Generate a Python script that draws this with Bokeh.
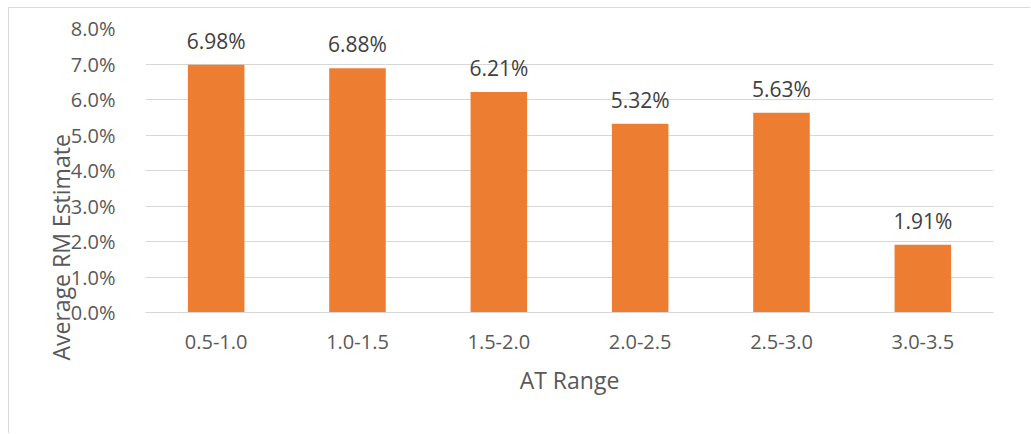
import math
from bokeh.plotting import figure
from bokeh.models import (ColumnDataSource, FactorRange, Range1d, NumeralTickFormatter,
                          FixedTicker, Title)
from bokeh.core.properties import value
from bokeh.embed import file_html
from bokeh.resources import INLINE

categories = ["0.5-1.0", "1.0-1.5", "1.5-2.0", "2.0-2.5", "2.5-3.0", "3.0-3.5"]
rm_estimate = [0.0698, 0.0688, 0.0621, 0.0532, 0.0563, 0.0191]
y_ticks = [0.0, 0.01, 0.02, 0.03, 0.04, 0.05, 0.06, 0.07, 0.08]
x_title = "AT Range"
y_title = "Average RM Estimate"

FONT = "Open Sans"
BAR = "#ED7D31"
GRID = "#d6d6d6"
TXT = "#595959"

OX, OY = 9, 8  # canvas origin inside the outer frame

src = ColumnDataSource(dict(
    cat=categories,
    val=rm_estimate,
    lab=[f"{v*100:.2f}%" for v in rm_estimate],
))

p = figure(width=1022, height=426, x_range=FactorRange(*categories, range_padding=0),
           y_range=Range1d(0, 0.08), output_backend="svg", toolbar_location=None,
           min_border_left=145 - OX, min_border_right=38, min_border_top=28 - OY,
           min_border_bottom=122,
           margin=(7, 0, 0, 8),
           styles={"border-left": "1px solid #d9d9d9", "border-top": "1px solid #d9d9d9"})
p.outline_line_color = None
p.background_fill_color = "white"
p.border_fill_color = "white"

p.vbar(x="cat", top="val", width=0.4, source=src, fill_color=BAR, line_color=None)
p.text(x="cat", y="val", text="lab", source=src, text_align="center", text_baseline="middle",
       y_offset=-24, text_font=value(FONT), text_font_size="21px", text_color="#404040")

p.xgrid.grid_line_color = None
p.ygrid.grid_line_color = GRID
p.ygrid.grid_line_width = 1.2

ya = p.yaxis[0]
ya.ticker = FixedTicker(ticks=y_ticks)
ya.formatter = NumeralTickFormatter(format="0.0%")
ya.axis_line_color = None
ya.major_tick_line_color = None
ya.minor_tick_line_color = None
ya.major_label_standoff = 24
ya.major_label_text_font = FONT
ya.major_label_text_font_size = "20px"
ya.major_label_text_color = TXT

# y title as a side title so it can sit lower than the frame centre, as in the reference
p.add_layout(Title(text=y_title, align="left", offset=-48, standoff=-18,
                   text_font=FONT, text_font_size="23px", text_font_style="normal",
                   text_color=TXT), "left")

xa = p.xaxis[0]
xa.axis_line_color = GRID
xa.axis_line_width = 1.2
xa.major_tick_line_color = None
xa.minor_tick_line_color = None
xa.major_label_standoff = 16
xa.major_label_text_font = FONT
xa.major_label_text_font_size = "20px"
xa.major_label_text_color = TXT
xa.axis_label = x_title
xa.axis_label_text_font = FONT
xa.axis_label_text_font_size = "23px"
xa.axis_label_text_font_style = "normal"
xa.axis_label_text_color = TXT
xa.axis_label_standoff = 12

open("out.html", "w").write(file_html(p, INLINE))
